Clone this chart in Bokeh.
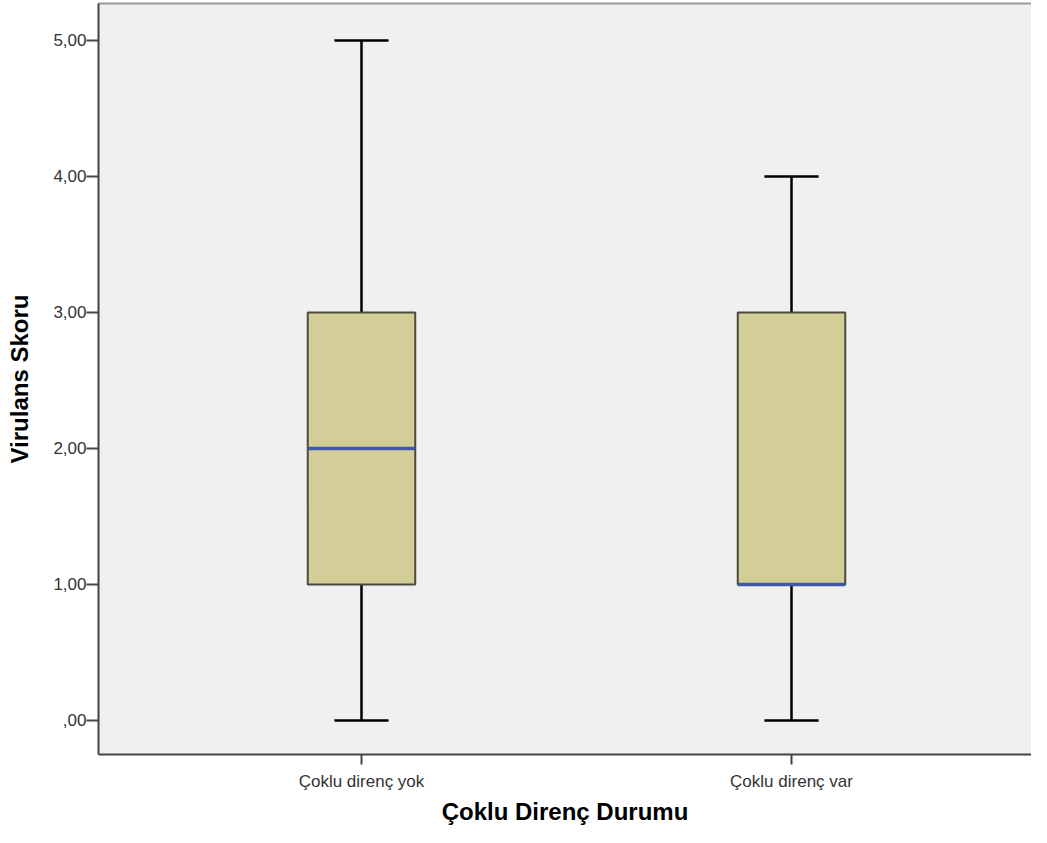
from bokeh.plotting import figure
from bokeh.models import Range1d, FixedTicker, LinearAxis, ColumnDataSource
from bokeh.embed import file_html
from bokeh.resources import INLINE

categories = ["Çoklu direnç yok", "Çoklu direnç var"]
lower_whisker = [0.0, 0.0]
q1 = [1.0, 1.0]
median = [2.0, 1.0]
q3 = [3.0, 3.0]
upper_whisker = [5.0, 4.0]
y_ticks = [0, 1, 2, 3, 4, 5]
y_tick_labels = [",00", "1,00", "2,00", "3,00", "4,00", "5,00"]

xpos = [i + 0.5 for i in range(len(categories))]
box_w = 0.25
cap_w = 0.126

src = ColumnDataSource(dict(
    x=xpos, low=lower_whisker, q1=q1, med=median, q3=q3, high=upper_whisker,
    left=[x - box_w / 2 for x in xpos], right=[x + box_w / 2 for x in xpos],
    cl=[x - cap_w / 2 for x in xpos], cr=[x + cap_w / 2 for x in xpos],
))

p = figure(width=1031, height=827, output_backend="svg", toolbar_location=None,
           x_range=Range1d(-0.1116, 2.0581), y_range=Range1d(-0.25, 5.272),
           min_border_left=98, min_border_bottom=69, min_border_top=3, min_border_right=0,
           background_fill_color="#f0f0f0", border_fill_color="white")
p.outline_line_color = None
p.xgrid.grid_line_color = None
p.ygrid.grid_line_color = None

# whiskers
p.segment(x0="x", y0="low", x1="x", y1="q1", source=src, line_color="black", line_width=2.5)
p.segment(x0="x", y0="q3", x1="x", y1="high", source=src, line_color="black", line_width=2.5)
p.segment(x0="cl", y0="low", x1="cr", y1="low", source=src, line_color="black", line_width=2.5)
p.segment(x0="cl", y0="high", x1="cr", y1="high", source=src, line_color="black", line_width=2.5)
# boxes
p.quad(left="left", right="right", bottom="q1", top="q3", source=src,
       fill_color="#d3ce98", line_color="#4a4a3e", line_width=2)
# medians
p.segment(x0="left", y0="med", x1="right", y1="med", source=src, line_color="#3f58a8", line_width=3.5)

font = "Liberation Sans"
p.yaxis.ticker = FixedTicker(ticks=y_ticks)
p.yaxis.major_label_overrides = {t: l for t, l in zip(y_ticks, y_tick_labels)}
p.xaxis.ticker = FixedTicker(ticks=xpos)
p.xaxis.major_label_overrides = {x: c for x, c in zip(xpos, categories)}

for ax in (p.xaxis, p.yaxis):
    ax.axis_line_color = "#444444"
    ax.axis_line_width = 2
    ax.major_tick_line_color = "#444444"
    ax.major_tick_line_width = 2
    ax.major_tick_in = 0
    ax.minor_tick_line_color = None
    ax.major_label_text_font = font
    ax.major_label_text_font_size = "17px"
    ax.major_label_text_color = "#333333"
    ax.axis_label_text_font = font
    ax.axis_label_text_font_style = "bold"
    ax.axis_label_text_font_size = "24px"
    ax.axis_label_text_color = "black"

p.yaxis.major_tick_out = 12
p.yaxis.major_label_standoff = 0
p.yaxis.axis_label = "Virulans Skoru"
p.yaxis.axis_label_standoff = 17
p.xaxis.major_tick_out = 10
p.xaxis.major_label_standoff = 7
p.xaxis.axis_label = "Çoklu Direnç Durumu"
p.xaxis.axis_label_standoff = 4

top_axis = LinearAxis(ticker=FixedTicker(ticks=[]), axis_line_color="#999999", axis_line_width=2,
                      major_tick_line_color=None, minor_tick_line_color=None,
                      major_label_text_font_size="0px", major_tick_out=0, major_tick_in=0,
                      major_label_standoff=0, axis_label_standoff=0)
p.add_layout(top_axis, "above")

open("out.html", "w").write(file_html(p, INLINE))
